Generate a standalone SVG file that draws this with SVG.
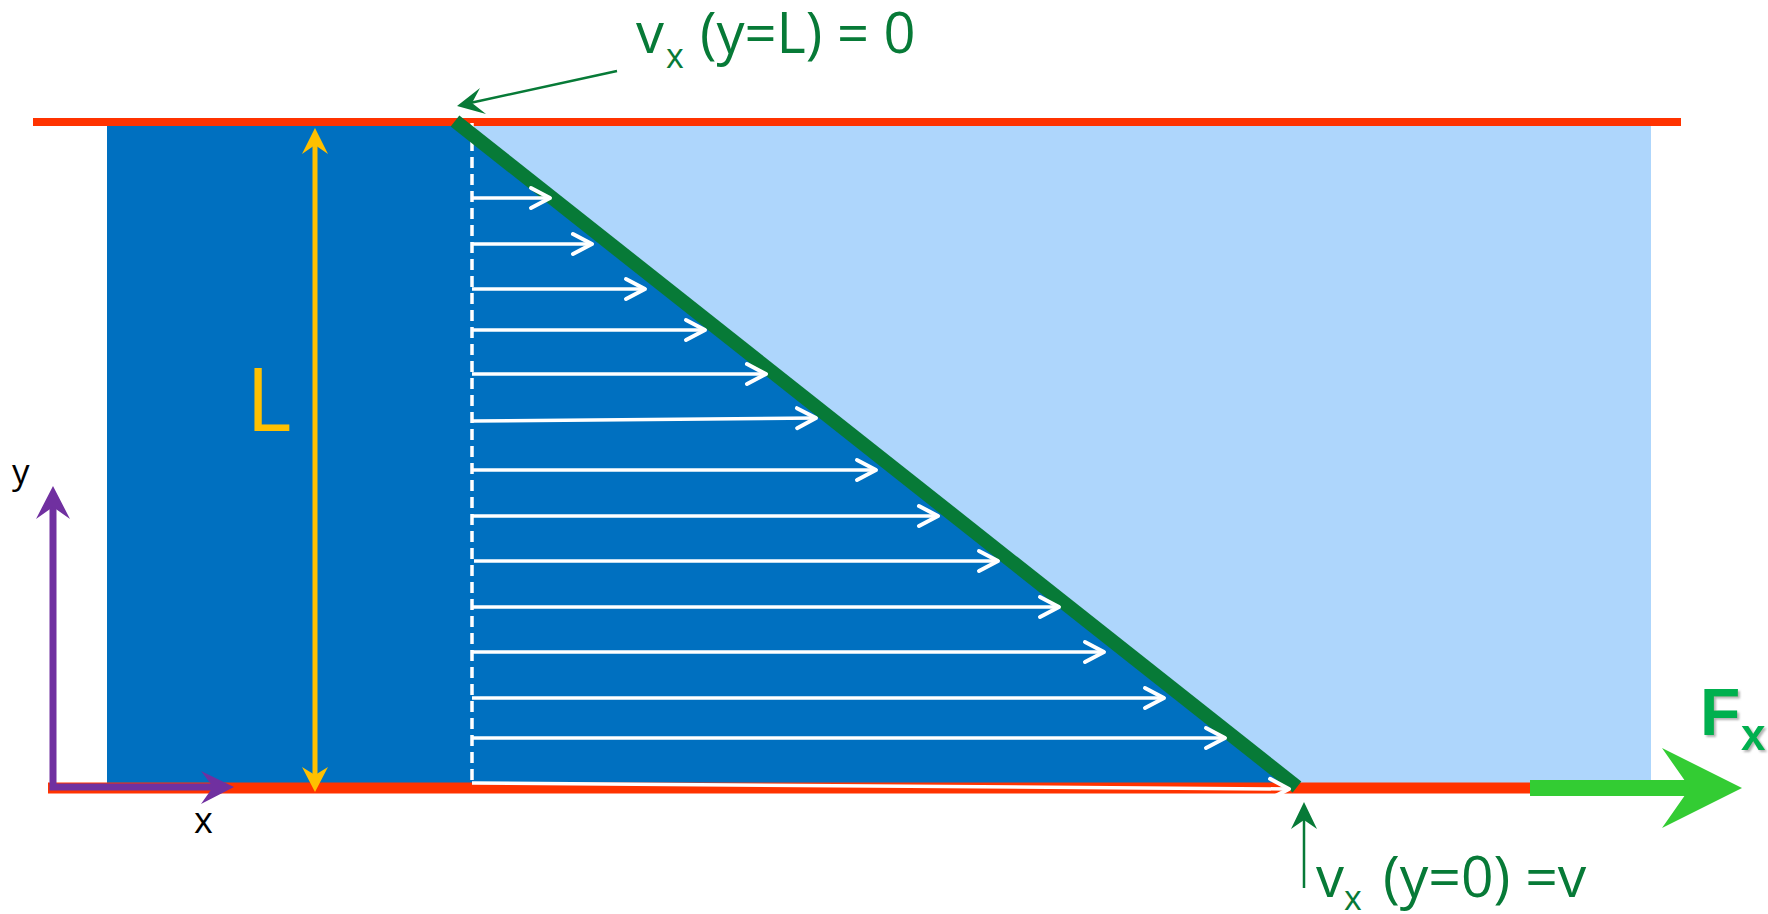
<svg xmlns="http://www.w3.org/2000/svg" width="1768" height="914" viewBox="0 0 1768 914">
<defs>
<style>
.vel{fill:none;stroke:#FFFFFF;stroke-width:3.5;marker-end:url(#chev)}
.lbl{font-family:"Open Sans","Liberation Sans",sans-serif;fill:#077A37}
.axis{font-family:"Open Sans","Liberation Sans",sans-serif;fill:#000000}
</style>
<marker id="chev" markerUnits="userSpaceOnUse" markerWidth="30" markerHeight="30" viewBox="-25 -15 30 30" refX="0" refY="0" orient="auto" overflow="visible">
<path d="M-19,-10 L0,0 L-19,10" fill="none" stroke="#FFFFFF" stroke-width="4" stroke-linecap="round" stroke-linejoin="round"/>
</marker>
<filter id="shadow" x="-20%" y="-20%" width="160%" height="160%">
<feDropShadow dx="2" dy="2" stdDeviation="1" flood-color="#808080" flood-opacity="0.6"/>
</filter>
</defs>
<rect width="1768" height="914" fill="#FFFFFF"/>
<g id="fluid">
<rect x="107" y="126" width="1544" height="657" fill="#AED6FC"/>
<polygon points="107,126 462,126 1296,783 107,783" fill="#0070C0"/>
</g>
<g id="plates">
<line x1="33" y1="122" x2="1681" y2="122" stroke="#FF3300" stroke-width="8"/>
<line x1="48" y1="788" x2="1532" y2="788" stroke="#FF3300" stroke-width="11"/>
</g>
<g id="profile">
<line x1="472" y1="123" x2="472" y2="786" stroke="#FFFFFF" stroke-width="3.5" stroke-dasharray="11,6"/>
<line x1="455" y1="121" x2="1297" y2="787" stroke="#077A37" stroke-width="14"/>
</g>
<g id="connectors">
<g id="velocity-arrows">
<path class="vel" d="M472,198 L550,198"/>
<path class="vel" d="M472,244 L592,244"/>
<path class="vel" d="M472,289 L645,289"/>
<path class="vel" d="M472,330 L705,330"/>
<path class="vel" d="M472,374 L766,374"/>
<path class="vel" d="M472,421 L816,418"/>
<path class="vel" d="M472,470 L876,470"/>
<path class="vel" d="M472,516 L938,516"/>
<path class="vel" d="M474,561 L998,561"/>
<path class="vel" d="M472,607 L1059,607"/>
<path class="vel" d="M472,652 L1104,652"/>
<path class="vel" d="M472,698 L1164,698"/>
<path class="vel" d="M472,738 L1225,738"/>
<path class="vel" d="M472,783 L1289,789"/>
</g>
<g id="length-arrow">
<line x1="315" y1="142" x2="315" y2="778" stroke="#FFC000" stroke-width="5"/>
<polygon points="315,128 328,154 315,145 302,154" fill="#FFC000"/>
<polygon points="315,792 328,767 315,775 302,767" fill="#FFC000"/>
</g>
<g id="axes">
<polyline points="53,505 53,787 215,787" fill="none" stroke="#7030A0" stroke-width="7"/>
<polygon points="53,486 70,519 53,507 36,519" fill="#7030A0"/>
<polygon points="234,787 201,771 213,787 201,804" fill="#7030A0"/>
</g>
<g id="annotation-top">
<line x1="617" y1="71" x2="470" y2="103" stroke="#077A37" stroke-width="2.5"/>
<polygon points="457,106 480,88 472,103 486,114" fill="#077A37"/>
</g>
<g id="annotation-bottom">
<line x1="1304" y1="888" x2="1304" y2="815" stroke="#077A37" stroke-width="2.5"/>
<polygon points="1304,802 1317,829 1304,820 1291,829" fill="#077A37"/>
</g>
<g id="force-arrow">
<line x1="1530" y1="788" x2="1692" y2="788" stroke="#33CC33" stroke-width="16"/>
<polygon points="1742,788 1662,748 1690,788 1662,828" fill="#33CC33"/>
</g>
</g>
<g id="labels">
<text x="246" y="431" font-family="Open Sans, Liberation Sans, sans-serif" font-size="87" fill="#FFC000">L</text>
<text class="axis" x="12" y="484" font-size="35">y</text>
<text class="axis" x="194" y="833" font-size="36">x</text>
<g id="label-top">
<text class="lbl" x="636" y="53" font-size="56">v</text>
<text class="lbl" x="666" y="68" font-size="34">x</text>
<text class="lbl" x="700" y="53" font-size="56">(y=L) = 0</text>
</g>
<g id="label-bottom">
<text class="lbl" x="1316" y="897" font-size="56">v</text>
<text class="lbl" x="1344" y="910" font-size="34">x</text>
<text class="lbl" x="1383" y="897" font-size="57">(y=0) =v</text>
</g>
<g id="label-force" filter="url(#shadow)">
<text x="1700" y="735" font-family="Liberation Sans, Arial, sans-serif" font-weight="bold" font-size="66" fill="#00B050">F</text>
<text x="1741" y="750" font-family="Liberation Sans, Arial, sans-serif" font-weight="bold" font-size="44" fill="#00B050">x</text>
</g>
</g>
</svg>
